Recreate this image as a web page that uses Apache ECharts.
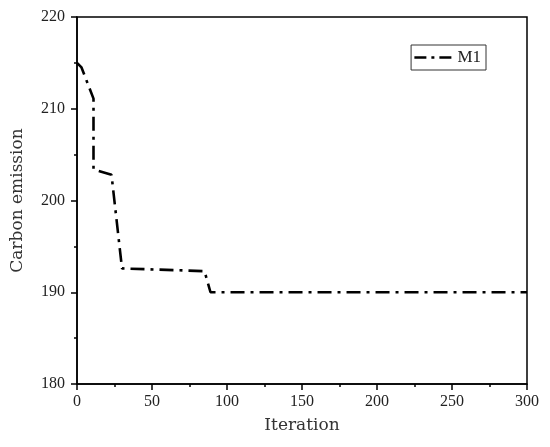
<!DOCTYPE html>
<html><head><meta charset="utf-8">
<script src="https://cdn.jsdelivr.net/npm/echarts@6/dist/echarts.min.js"></script>
<style>html,body{margin:0;padding:0;background:#fff}#c{width:550px;height:447px}</style>
</head><body><div id="c"></div>
<script>
const seriesName = 'M1';
const iterations = [0, 3, 11, 11, 23, 30, 85, 89, 300];
const carbon = [215.0, 214.5, 211.1, 203.4, 202.8, 192.6, 192.3, 190.0, 190.0];
const xTicks = [0, 50, 100, 150, 200, 250, 300];
const yTicks = [180, 190, 200, 210, 220];

const chart = echarts.init(document.getElementById('c'), null, {renderer: 'canvas'});
const axisFont = {fontFamily: 'Liberation Serif', fontSize: 16, color: '#222'};
chart.setOption({
  animation: false,
  backgroundColor: '#fff',
  grid: {left: 77, right: 23, top: 17, bottom: 63, show: true, borderColor: '#000', borderWidth: 1.5, backgroundColor: 'transparent'},
  legend: {
    data: [seriesName], right: 64, top: 45, borderColor: '#333', borderWidth: 1,
    padding: [4, 5, 4, 2], itemWidth: 38, itemHeight: 14, itemGap: 5,
    itemStyle: {opacity: 0},
    lineStyle: {color: '#000', width: 2.6, type: [12, 5, 3, 5]},
    textStyle: {fontFamily: 'Liberation Serif', fontSize: 17, color: '#222'}
  },
  xAxis: {
    type: 'value', min: xTicks[0], max: xTicks[xTicks.length - 1], interval: 50,
    name: 'Iteration', nameLocation: 'middle', nameGap: 33,
    nameTextStyle: {fontFamily: 'DejaVu Serif', fontSize: 17, color: '#333'},
    axisLine: {show: true, lineStyle: {color: '#000', width: 1.5}},
    axisTick: {show: true, inside: false, length: 6, lineStyle: {color: '#000', width: 1.5}},
    minorTick: {show: true, splitNumber: 2, length: 3, lineStyle: {color: '#000', width: 1.5}},
    splitLine: {show: false},
    axisLabel: Object.assign({margin: 10}, axisFont)
  },
  yAxis: {
    type: 'value', min: yTicks[0], max: yTicks[yTicks.length - 1], interval: 10,
    name: 'Carbon emission', nameLocation: 'middle', nameGap: 51,
    nameTextStyle: {fontFamily: 'DejaVu Serif', fontSize: 17, color: '#333'},
    axisLine: {show: true, lineStyle: {color: '#000', width: 1.5}},
    axisTick: {show: true, inside: false, length: 6, lineStyle: {color: '#000', width: 1.5}},
    minorTick: {show: true, splitNumber: 2, length: 3, lineStyle: {color: '#000', width: 1.5}},
    splitLine: {show: false},
    axisLabel: Object.assign({margin: 12}, axisFont)
  },
  series: [{
    name: seriesName, type: 'line', symbol: 'none',
    data: iterations.map((x, i) => [x, carbon[i]]),
    lineStyle: {color: '#000', width: 2.6, type: [14, 6, 3, 6]},
    itemStyle: {color: '#000'}
  }]
});
</script></body></html>
